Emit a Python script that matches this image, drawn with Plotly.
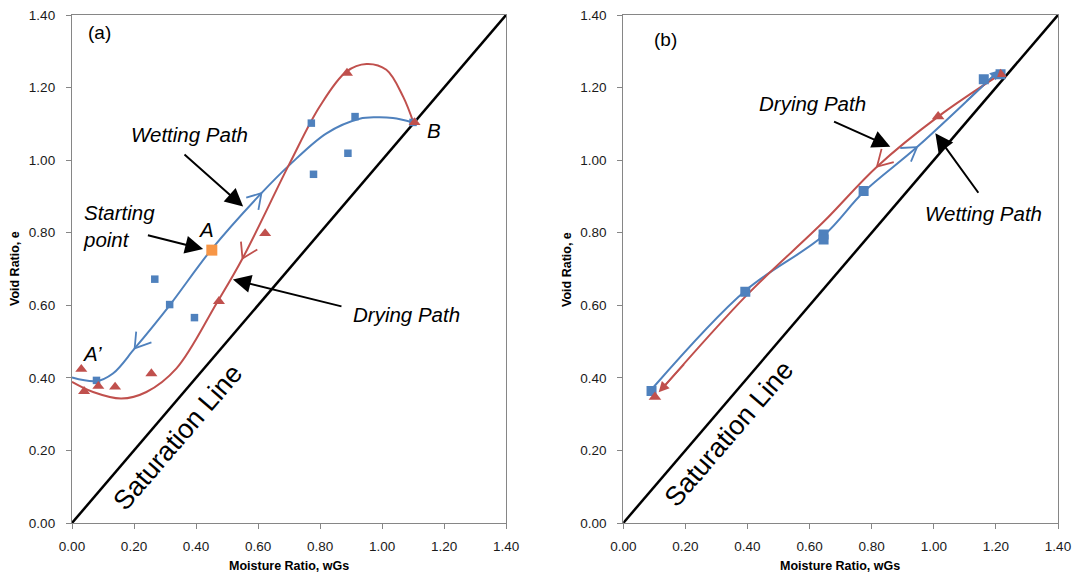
import plotly.graph_objects as go

# ---------------- data: panel (a) ----------------
a_wet_x = [0.079, 0.267, 0.315, 0.395, 0.772, 0.779, 0.890, 0.913, 1.100]
a_wet_y = [0.393, 0.672, 0.602, 0.566, 1.102, 0.961, 1.019, 1.120, 1.104]
a_start_x = [0.451]
a_start_y = [0.752]
a_dry_x = [0.030, 0.039, 0.085, 0.139, 0.256, 0.474, 0.623, 0.887, 1.105]
a_dry_y = [0.424, 0.363, 0.377, 0.375, 0.412, 0.611, 0.798, 1.240, 1.104]

# trend curves
a_wet_curve_x = [0.0, 0.079, 0.132, 0.202, 0.315, 0.450, 0.611, 0.702, 0.821, 0.928, 0.982, 1.035, 1.100]
a_wet_curve_y = [0.401, 0.391, 0.412, 0.481, 0.600, 0.754, 0.909, 0.987, 1.074, 1.114, 1.118, 1.116, 1.104]
a_dry_curve_x = [0.0, 0.068, 0.159, 0.240, 0.337, 0.466, 0.550, 0.702, 0.799, 0.885, 0.950, 1.014, 1.068, 1.102]
a_dry_curve_y = [0.389, 0.361, 0.343, 0.361, 0.426, 0.605, 0.729, 0.991, 1.148, 1.244, 1.265, 1.249, 1.175, 1.102]

# ---------------- data: panel (b) ----------------
b_wet_x = [0.091, 0.393, 0.645, 0.645, 0.774, 1.161, 1.215]
b_wet_y = [0.364, 0.637, 0.795, 0.781, 0.915, 1.223, 1.237]
b_dry_x = [0.102, 1.014, 1.215]
b_dry_y = [0.347, 1.120, 1.237]

b_wet_line_x = [0.095, 0.393, 0.645, 0.774, 0.946, 1.205]
b_wet_line_y = [0.372, 0.640, 0.792, 0.912, 1.036, 1.243]
b_dry_line_x = [1.215, 1.014, 0.817, 0.645, 0.400, 0.127]
b_dry_line_y = [1.237, 1.120, 0.982, 0.830, 0.630, 0.372]

sat_x = [0.0, 1.4]
sat_y = [0.0, 1.4]

tick_vals = [0.0, 0.2, 0.4, 0.6, 0.8, 1.0, 1.2, 1.4]
tick_text = ["0.00", "0.20", "0.40", "0.60", "0.80", "1.00", "1.20", "1.40"]

BLUE = "#4F81BD"
RED = "#C0504D"
ORANGE = "#F79646"
AXC = "#868686"
FONT = "Liberation Sans"

fig = go.Figure()

def add_panel(xa, ya, wet_x, wet_y, dry_x, dry_y, wet_cx, wet_cy, dry_cx, dry_cy, msize):
    fig.add_trace(go.Scatter(x=sat_x, y=sat_y, mode="lines", xaxis=xa, yaxis=ya,
                             line=dict(color="black", width=2.5), showlegend=False, hoverinfo="skip"))
    fig.add_trace(go.Scatter(x=wet_cx, y=wet_cy, mode="lines", xaxis=xa, yaxis=ya,
                             line=dict(color=BLUE, width=2, shape="spline", smoothing=1.0),
                             showlegend=False))
    fig.add_trace(go.Scatter(x=dry_cx, y=dry_cy, mode="lines", xaxis=xa, yaxis=ya,
                             line=dict(color=RED, width=2, shape="spline", smoothing=1.0),
                             showlegend=False))
    fig.add_trace(go.Scatter(x=wet_x, y=wet_y, mode="markers", xaxis=xa, yaxis=ya,
                             marker=dict(symbol="square", color=BLUE, size=msize[0]), showlegend=False))
    fig.add_trace(go.Scatter(x=dry_x, y=dry_y, mode="markers", xaxis=xa, yaxis=ya,
                             marker=dict(symbol="triangle-up", color=RED, size=msize[1]), showlegend=False))

add_panel("x", "y", a_wet_x, a_wet_y, a_dry_x, a_dry_y,
          a_wet_curve_x, a_wet_curve_y, a_dry_curve_x, a_dry_curve_y, (7.5, 10.5))
fig.add_trace(go.Scatter(x=a_start_x, y=a_start_y, mode="markers",
                         marker=dict(symbol="square", color=ORANGE, size=11), showlegend=False))
add_panel("x2", "y2", b_wet_x, b_wet_y, b_dry_x, b_dry_y,
          b_wet_line_x, b_wet_line_y, b_dry_line_x, b_dry_line_y, (10, 11))

axis_common = dict(range=[0, 1.4], tickvals=tick_vals, ticktext=tick_text, showline=True,
                   linecolor=AXC, linewidth=1.3, mirror=True, ticks="outside", ticklen=5,
                   tickcolor=AXC, showgrid=False, zeroline=False, automargin=False,
                   tickfont=dict(family=FONT, size=13.5, color="#1a1a1a"))

fig.update_layout(
    width=1073, height=578, autosize=False,
    margin=dict(l=72, r=15, t=15, b=55, autoexpand=False),
    paper_bgcolor="white", plot_bgcolor="white",
    xaxis=dict(domain=[0, 0.4402], anchor="y", ticklabelstandoff=6, **axis_common),
    yaxis=dict(domain=[0, 1], anchor="x", ticklabelstandoff=8, **axis_common),
    xaxis2=dict(domain=[0.5591, 1.0], anchor="y2", ticklabelstandoff=6, **axis_common),
    yaxis2=dict(domain=[0, 1], anchor="x2", ticklabelstandoff=8, **axis_common),
    showlegend=False,
)

ann = []

def text(xr, yr, x, y, t, size=20, italic=True, angle=0, xanchor="center", align="center"):
    ann.append(dict(xref=xr, yref=yr, x=x, y=y, text=("<i>%s</i>" % t) if italic else t,
                    showarrow=False, textangle=angle, xanchor=xanchor, yanchor="middle", align=align,
                    font=dict(family=FONT, size=size, color="black")))

def arrow(xr, yr, x, y, ax, ay, color="black", head=2, width=2, size=1.8):
    ann.append(dict(xref=xr, yref=yr, axref=xr, ayref=yr, x=x, y=y, ax=ax, ay=ay, text="",
                    showarrow=True, arrowhead=head, arrowwidth=width, arrowsize=size, arrowcolor=color))

def chevron(xr, yr, x, y, arms, color):
    # open "V" arrowhead: two thin arms drawn from the tip, offsets in pixels
    for (dx, dy) in arms:
        ann.append(dict(xref=xr, yref=yr, x=x, y=y, ax=dx, ay=dy, text="",
                        showarrow=True, arrowhead=0, arrowwidth=1.8, arrowcolor=color, standoff=0))

# panel (a) texts
text("x", "y", 0.088, 1.352, "(a)", size=19, italic=False)
text("x", "y", 0.380, 1.070, "Wetting Path", size=20.5)
text("x", "y", 0.030, 0.818, "Starting<br>point", size=20.5, xanchor="left", align="left")
text("x", "y", 0.431, 0.808, "A", size=20.5)
text("x", "y", 1.167, 1.083, "B", size=20.5)
text("x", "y", 0.063, 0.467, "A’", size=20.5)
text("x", "y", 1.079, 0.575, "Drying Path", size=20.5)
text("x", "y", 0.342, 0.237, "Saturation Line", size=27, italic=False, angle=-49.4)
# black pointer arrows (a)
arrow("x", "y", 0.552, 0.872, 0.358, 1.019)
arrow("x", "y", 0.423, 0.755, 0.240, 0.794)
arrow("x", "y", 0.519, 0.671, 0.874, 0.596)
# direction chevrons (a)
chevron("x", "y", 0.611, 0.909, [(-16.7, 5), (-3.3, 18.3)], BLUE)
chevron("x", "y", 0.202, 0.481, [(1.7, -18.3), (18.3, -6.7)], BLUE)
chevron("x", "y", 0.550, 0.729, [(-1.7, -18.3), (16.3, -10)], RED)

# panel (b) texts
text("x2", "y2", 0.137, 1.332, "(b)", size=19, italic=False)
text("x2", "y2", 0.610, 1.157, "Drying Path", size=20.5)
text("x2", "y2", 1.159, 0.853, "Wetting Path", size=20.5)
text("x2", "y2", 0.339, 0.246, "Saturation Line", size=27, italic=False, angle=-49.4)
arrow("x2", "y2", 0.860, 1.037, 0.674, 1.108)
arrow("x2", "y2", 1.005, 1.074, 1.147, 0.906)
# chevrons / end arrows (b)
chevron("x2", "y2", 0.817, 0.982, [(5, -19.3), (18.3, -5)], RED)
chevron("x2", "y2", 0.946, 1.036, [(-18.3, 1), (-6.7, 16)], BLUE)
arrow("x2", "y2", 0.114, 0.360, 0.20, 0.441, color=RED, head=2, width=1.5, size=1.4)
arrow("x2", "y2", 1.212, 1.248, 1.10, 1.159, color=BLUE, head=2, width=1.5, size=1.3)

# axis titles
for xp in (0.2204, 0.7794):
    ann.append(dict(xref="paper", yref="paper", x=xp, y=-0.0846, text="<b>Moisture Ratio, wGs</b>",
                    showarrow=False, xanchor="center", yanchor="middle",
                    font=dict(family=FONT, size=12.5, color="black")))
for xp in (-0.0578, 0.502):
    ann.append(dict(xref="paper", yref="paper", x=xp, y=0.5, text="<b>Void Ratio, e</b>",
                    showarrow=False, xanchor="center", yanchor="middle", textangle=-90,
                    font=dict(family=FONT, size=12.5, color="black")))

fig.update_layout(annotations=ann)

fig.write_html("out.html", config={"responsive": False, "displayModeBar": False},
               post_script="document.body.style.margin='0';document.body.style.overflow='hidden';")
